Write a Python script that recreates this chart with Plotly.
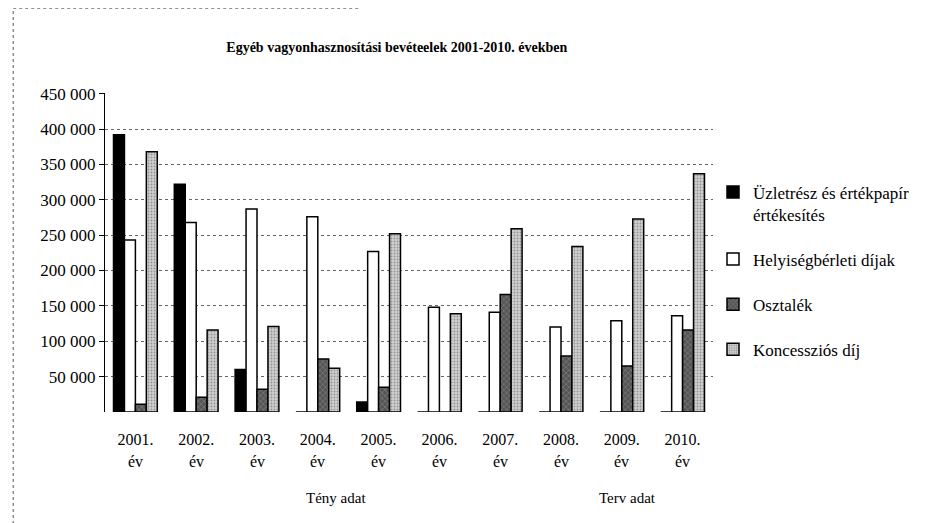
import plotly.graph_objects as go

years = ["2001.", "2002.", "2003.", "2004.", "2005.", "2006.", "2007.", "2008.", "2009.", "2010."]
sub_label = "év"
series_names = ["Üzletrész és értékpapír<br>értékesítés", "Helyiségbérleti díjak", "Osztalék", "Koncessziós díj"]
uzletresz = [392000, 322000, 60000, 0, 14000, 0, 0, 0, 0, 0]
helyiseg = [243000, 268000, 287000, 276000, 227000, 148000, 141000, 120000, 129000, 136000]
osztalek = [11000, 21000, 32000, 75000, 35000, 0, 166000, 79000, 65000, 116000]
koncesszio = [368000, 116000, 121000, 62000, 252000, 139000, 259000, 234000, 273000, 337000]
y_ticks = [50000, 100000, 150000, 200000, 250000, 300000, 350000, 400000, 450000]
y_ticktext = ["50 000", "100 000", "150 000", "200 000", "250 000", "300 000", "350 000", "400 000", "450 000"]
title = "Egyéb vagyonhasznosítási bevéteelek 2001-2010. években"
group_labels = ["Tény adat", "Terv adat"]

FONT = "Liberation Serif"
x = list(range(len(years)))

fig = go.Figure()
outline = dict(color="black", width=1.5)
fig.add_trace(go.Bar(x=x, y=uzletresz, name=series_names[0], legendgroup="a",
                     marker=dict(color="black", line=outline)))
fig.add_trace(go.Bar(x=x, y=helyiseg, name=series_names[1], legendgroup="b",
                     marker=dict(color="white", line=outline)))
fig.add_trace(go.Bar(x=x, y=osztalek, name=series_names[2], legendgroup="c",
                     marker=dict(color="#555555", line=outline,
                                 pattern=dict(shape="x", fgcolor="#aaaaaa", size=4, solidity=0.3))))
fig.add_trace(go.Bar(x=x, y=koncesszio, name=series_names[3], legendgroup="d",
                     marker=dict(color="#d0d0d0", line=outline,
                                 pattern=dict(shape=".", fgcolor="#555555", size=3, solidity=0.3))))

annotations = []
for i in x:
    annotations.append(dict(x=i, y=-0.188, xref="x", yref="paper", text=sub_label,
                            showarrow=False, font=dict(family=FONT, size=16, color="black")))
annotations.append(dict(x=3.3, y=-0.30, xref="x", yref="paper", text=group_labels[0],
                        showarrow=False, font=dict(family=FONT, size=15, color="black")))
annotations.append(dict(x=8.1, y=-0.30, xref="x", yref="paper", text=group_labels[1],
                        showarrow=False, font=dict(family=FONT, size=15, color="black")))

shapes = [
    dict(type="line", xref="paper", yref="paper", x0=-0.151, x1=-0.151, y0=-0.37, y1=1.266,
         line=dict(color="#555555", width=1, dash="dot")),
    dict(type="line", xref="paper", yref="paper", x0=-0.151, x1=0.42, y0=1.266, y1=1.266,
         line=dict(color="#555555", width=1, dash="dot")),
]

fig.update_layout(
    width=937, height=523,
    margin=dict(l=97, r=232, t=85, b=119),
    paper_bgcolor="white", plot_bgcolor="white",
    barmode="group", bargap=0.28, bargroupgap=0.0,
    title=dict(text="<b>" + title + "</b>", x=0.415, xanchor="center", y=0.925, yanchor="middle",
               font=dict(family=FONT, size=14, color="black")),
    font=dict(family=FONT, size=16, color="black"),
    legend=dict(x=1.0, y=0.745, xanchor="left", yanchor="top", tracegroupgap=20, itemwidth=30,
                valign="top",
                font=dict(family=FONT, size=17, color="black"), bgcolor="rgba(0,0,0,0)"),
    annotations=annotations,
    shapes=shapes,
    showlegend=True,
)
fig.update_xaxes(tickmode="array", tickvals=x, ticktext=years, range=[-0.5, 9.5],
                 showgrid=False, showline=False, ticks="", ticklabelstandoff=16,
                 tickfont=dict(family=FONT, size=16, color="black"))
fig.update_yaxes(range=[0, 451000], tickmode="array", tickvals=y_ticks, ticktext=y_ticktext,
                 showgrid=True, gridcolor="#666666", griddash="dot", gridwidth=1,
                 showline=True, linecolor="black", linewidth=1, ticks="outside", ticklen=5,
                 tickcolor="black", zeroline=False,
                 tickfont=dict(family=FONT, size=17, color="black"))

fig.write_html("out.html")
